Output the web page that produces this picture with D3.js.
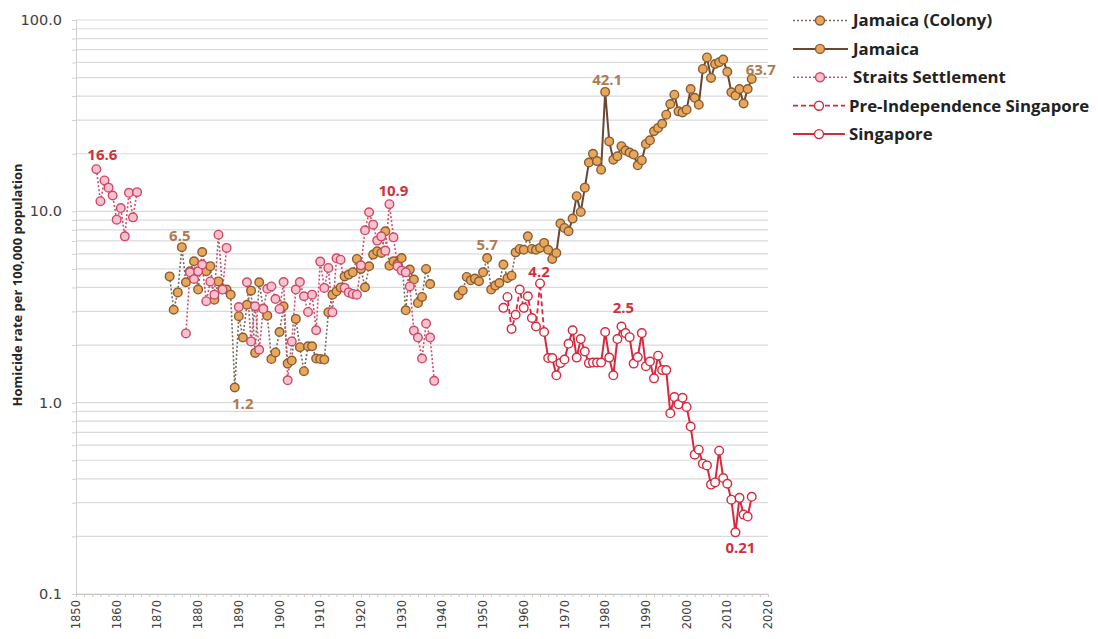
<!DOCTYPE html>
<html><head><meta charset="utf-8">
<script src="https://cdn.jsdelivr.net/npm/d3@7"></script>
<style>body{margin:0;background:#fff;} svg{display:block;}</style>
</head><body><svg id="c" width="1098" height="639"></svg>
<script>
// ---------- data ----------
const xTickValues = [1850,1860,1870,1880,1890,1900,1910,1920,1930,1940,1950,1960,1970,1980,1990,2000,2010,2020];
const yTickValues = [0.1, 1, 10, 100];
const yTickLabels = ["0.1", "1.0", "10.0", "100.0"];

const legendNames = ["Jamaica (Colony)", "Jamaica", "Straits Settlement", "Pre-Independence Singapore", "Singapore"];

// Straits Settlement, 1855 - 1938 (null = no data)
const straitsStart = 1855;
const straitsValues = [
  16.6, 11.3, 14.5, 13.3, 12.1, 9.05, 10.4, 7.4, 12.5, 9.3, 12.6,            // 1855-1865
  null, null, null, null, null, null, null, null, null, null, null,          // 1866-1876
  2.3, 4.8, 4.43, 4.86, 5.27, 3.39, 4.3, 3.67, 7.55, 3.9, 6.44,              // 1877-1887
  null, null, 3.16, null,                                                    // 1888-1891
  4.26, 2.09, 3.19, 1.89, 3.09, 3.94, 4.05, 3.48, 3.09, 4.27,                 // 1892-1901
  1.31, 2.09, 3.9, 4.27, 3.6, 2.98, 3.67, 2.39, 5.46, 3.98,                   // 1902-1911
  5.06, 2.97, 5.68, 5.59, 3.98, 3.77, 3.7, 3.67, 5.22, 7.96,                  // 1912-1921
  9.88, 8.52, 7.03, 7.4, 6.23, 10.9, 7.31, 5.16, 4.9, 4.8,                    // 1922-1931
  4.05, 2.38, 2.19, 1.7, 2.59, 2.19, 1.3                                      // 1932-1938
];

// Jamaica (Colony), 1873 - 1961
const colonyStart = 1873;
const colonyValues = [
  4.57, 3.06, 3.77, 6.5, 4.26, 4.86, 5.48, 3.9, 6.13, 4.86,                   // 1873-1882
  5.17, 3.45, 4.3, 3.91, 3.9, 3.67, 1.2, 2.83, 2.19, 3.25,                    // 1883-1892
  3.85, 1.82, 4.26, 3.1, 2.85, 1.69, 1.83, 2.34, 3.19, 1.6,                   // 1893-1902
  1.66, 2.74, 1.95, 1.46, 1.97, 1.97, 1.7, 1.69, 1.68, 2.97,                  // 1903-1912
  3.67, 3.82, 4.0, 4.57, 4.67, 4.8, 5.64, 5.0, 4.01, 5.16,                    // 1913-1922
  5.94, 6.18, 6.06, 7.87, 5.2, 5.48, 5.3, 5.7, 3.04, 4.96,                    // 1923-1932
  4.4, 3.32, 3.57, 5.0, 4.17,                                                 // 1933-1937
  null, null, null, null, null, null,                                         // 1938-1943
  3.64, 3.86, 4.54, 4.36, 4.45, 4.31, 4.8, 5.7, 3.9, 4.09,                    // 1944-1953
  4.22, 5.27, 4.48, 4.61, 6.1, 6.36, 6.3, 7.4                                 // 1954-1961
];

// Jamaica, 1962 - 2016
const jamaicaStart = 1962;
const jamaicaValues = [
  6.36, 6.3, 6.44, 6.84, 6.3, 5.64, 6.06, 8.63, 8.19, 7.87,                   // 1962-1971
  9.16, 12.0, 9.93, 13.3, 18.0, 20.0, 18.3, 16.5, 42.1, 23.2,                 // 1972-1981
  18.6, 19.4, 21.9, 20.8, 20.3, 19.8, 17.4, 18.5, 22.5, 23.5,                 // 1982-1991
  26.2, 27.3, 28.7, 32.0, 36.4, 40.7, 33.3, 32.9, 34.0, 43.6,                 // 1992-2001
  39.2, 36.1, 55.5, 63.7, 49.8, 58.9, 60.1, 62.1, 53.6, 41.9,                 // 2002-2011
  40.3, 43.6, 36.6, 43.6, 49.2                                                // 2012-2016
];

// Pre-Independence Singapore, 1955 - 1964
const preSgStart = 1955;
const preSgValues = [3.13, 3.57, 2.43, 2.88, 3.9, 3.13, 3.6, 2.77, 2.5, 4.2];

// Singapore, 1965 - 2016
const sgStart = 1965;
const sgValues = [
  2.34, 1.71, 1.71, 1.39, 1.61, 1.68, 2.03, 2.39, 1.72, 2.15,                 // 1965-1974
  1.85, 1.61, 1.62, 1.62, 1.62, 2.34, 1.72, 1.39, 2.15, 2.5,                  // 1975-1984
  2.31, 2.2, 1.6, 1.73, 2.31, 1.55, 1.64, 1.34, 1.76, 1.48,                   // 1985-1994
  1.48, 0.88, 1.07, 0.98, 1.06, 0.95, 0.75, 0.535, 0.568, 0.48,               // 1995-2004
  0.47, 0.373, 0.383, 0.561, 0.404, 0.377, 0.311, 0.21, 0.318, 0.26,          // 2005-2014
  0.254, 0.322                                                                // 2015-2016
];

// ---------- helpers ----------
const toPts = (start, vals) => vals.map((v, i) => ({year: start + i, v}));
const straits = toPts(straitsStart, straitsValues);
const colony = toPts(colonyStart, colonyValues);
const jamaica = toPts(jamaicaStart, jamaicaValues);
const preSg = toPts(preSgStart, preSgValues);
const sg = toPts(sgStart, sgValues);

const svg = d3.select("#c");
const X0 = 76, X1 = 768, Y0 = 594, Y1 = 20;
const x = d3.scaleLinear().domain([1850, 2020]).range([X0, X1]);
const y = d3.scaleLog().domain([0.1, 100]).range([Y0, Y1]);

const FONT = "'Open Sans', 'Liberation Sans', sans-serif";
const TICKFONT = "'DejaVu Sans', Verdana, sans-serif";

// gridlines (major + minor)
const gridVals = [];
[0.1, 1, 10].forEach(d => { for (let k = 1; k <= 9; k++) gridVals.push(+(d * k).toFixed(3)); });
gridVals.push(100);
svg.append("g").selectAll("line").data(gridVals).join("line")
  .attr("x1", X0).attr("x2", X1)
  .attr("y1", d => y(d)).attr("y2", d => y(d))
  .attr("stroke", "#dadada").attr("stroke-width", 1.2);

// y axis
const yAxis = d3.axisLeft(y).tickValues(gridVals).tickSize(4).tickFormat("");
const gy = svg.append("g").attr("transform", `translate(${X0},0)`).call(yAxis);
gy.select(".domain").attr("stroke", "#d0d0d0");
gy.selectAll(".tick line").attr("stroke", "#d0d0d0");
svg.append("g").selectAll("text").data(yTickValues).join("text")
  .attr("x", X0 - 14).attr("y", d => y(d)).attr("dy", "0.35em")
  .attr("text-anchor", "end").attr("font-family", TICKFONT).attr("font-size", 14.5)
  .attr("fill", "#404040").text((d, i) => yTickLabels[i]);

// x axis
const xAxis = d3.axisBottom(x).tickValues(d3.range(1850, 2021, 2)).tickSize(3).tickFormat("");
const gx = svg.append("g").attr("transform", `translate(0,${Y0})`).call(xAxis);
gx.select(".domain").attr("stroke", "#c8c8c8");
gx.selectAll(".tick line").attr("stroke", "#c8c8c8");
svg.append("g").selectAll("text").data(xTickValues).join("text")
  .attr("transform", d => `translate(${x(d)},${Y0 + 6}) rotate(-90)`)
  .attr("dy", "0.35em").attr("text-anchor", "end")
  .attr("font-family", TICKFONT).attr("font-size", 11.5).attr("fill", "#404040")
  .text(d => d);

// y label
svg.append("text")
  .attr("transform", `translate(22,285) rotate(-90)`)
  .attr("text-anchor", "middle").attr("font-family", FONT)
  .attr("font-size", 13).attr("font-weight", "bold").attr("fill", "#262626")
  .text("Homicide rate per 100,000 population");

// ---------- series ----------
const line = d3.line().defined(d => d.v != null).x(d => x(d.year)).y(d => y(d.v));

const styles = {
  colony:  {stroke: "#7d6a5e", dash: "2,2", width: 1.6, mFill: "#e8a75a", mStroke: "#8a5c33"},
  jamaica: {stroke: "#6b4632", dash: null, width: 2, mFill: "#e8a75a", mStroke: "#8a5c33"},
  straits: {stroke: "#d2506c", dash: "2,2", width: 1.6, mFill: "#f6c2cb", mStroke: "#d0476a"},
  preSg:   {stroke: "#d8283d", dash: "5,3", width: 1.8, mFill: "#ffffff", mStroke: "#d8283d"},
  sg:      {stroke: "#d8283d", dash: null, width: 2, mFill: "#ffffff", mStroke: "#d8283d"}
};

function drawLine(data, st) {
  svg.append("path").datum(data).attr("d", line)
    .attr("fill", "none").attr("stroke", st.stroke).attr("stroke-width", st.width)
    .attr("stroke-dasharray", st.dash);
}
function drawMarkers(data, st) {
  svg.append("g").selectAll("circle").data(data.filter(d => d.v != null)).join("circle")
    .attr("cx", d => x(d.year)).attr("cy", d => y(d.v)).attr("r", 4.3)
    .attr("fill", st.mFill).attr("stroke", st.mStroke).attr("stroke-width", 1.4);
}

drawLine(colony.concat([jamaica[0]]), styles.colony);
drawLine(straits, styles.straits);
drawMarkers(colony, styles.colony);
drawMarkers(straits, styles.straits);
drawLine(jamaica, styles.jamaica);
drawMarkers(jamaica, styles.jamaica);
drawLine(preSg.concat([sg[0]]), styles.preSg);
drawLine(sg, styles.sg);
drawMarkers(preSg, styles.preSg);
drawMarkers(sg, styles.sg);

// ---------- data labels ----------
const RED = "#d22f3f", BROWN = "#b07a52";
const find = (arr, yr) => arr.find(d => d.year === yr);
const labels = [
  {p: find(straits, 1855), text: "16.6", c: RED, dx: 6, dy: -9},
  {p: find(colony, 1876), text: "6.5", c: BROWN, dx: -2, dy: -6},
  {p: find(colony, 1889), text: "1.2", c: BROWN, dx: 8, dy: 21},
  {p: find(straits, 1927), text: "10.9", c: RED, dx: 4, dy: -8},
  {p: find(colony, 1951), text: "5.7", c: BROWN, dx: 0, dy: -8},
  {p: find(preSg, 1964), text: "4.2", c: RED, dx: -1, dy: -6},
  {p: find(jamaica, 1980), text: "42.1", c: BROWN, dx: 2, dy: -7},
  {p: find(sg, 1984), text: "2.5", c: RED, dx: 2, dy: -14},
  {p: find(sg, 2012), text: "0.21", c: RED, dx: 5, dy: 21},
  {p: jamaica[jamaica.length - 1], text: d3.max(jamaicaValues).toFixed(1), c: BROWN, dx: 9, dy: -4}
];
svg.append("g").selectAll("text").data(labels).join("text")
  .attr("x", d => x(d.p.year) + d.dx).attr("y", d => y(d.p.v) + d.dy)
  .attr("text-anchor", "middle").attr("font-family", FONT)
  .attr("font-size", 15).attr("font-weight", "bold").attr("fill", d => d.c)
  .text(d => d.text);

// ---------- legend ----------
const legendStyles = [styles.colony, styles.jamaica, styles.straits, styles.preSg, styles.sg];
const lg = svg.append("g");
legendNames.forEach((name, i) => {
  const st = legendStyles[i];
  const ly = 20.5 + i * 28.4;
  const xEnd = i >= 3 ? 845 : 848;
  lg.append("line").attr("x1", 793).attr("x2", xEnd).attr("y1", ly).attr("y2", ly)
    .attr("stroke", st.stroke).attr("stroke-width", st.width).attr("stroke-dasharray", st.dash);
  lg.append("circle").attr("cx", i >= 3 ? 819 : 820).attr("cy", ly).attr("r", 4.5)
    .attr("fill", st.mFill).attr("stroke", st.mStroke).attr("stroke-width", 1.4);
  lg.append("text").attr("x", i >= 3 ? 849 : 853).attr("y", ly).attr("dy", "0.35em")
    .attr("font-family", FONT).attr("font-size", 16.8).attr("font-weight", "bold")
    .attr("fill", "#222").text(name);
});
</script>
</body></html>
